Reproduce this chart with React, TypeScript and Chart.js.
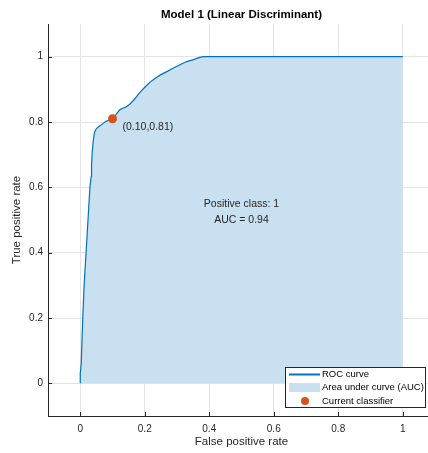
import React, { useEffect, useRef } from "react";
import { Chart, registerables } from "chart.js";

Chart.register(...registerables);

const rocFpr = [0, 0.0, 0.003, 0.008, 0.012, 0.018, 0.024, 0.030, 0.034, 0.035, 0.037, 0.040, 0.044, 0.050, 0.059, 0.070, 0.080, 0.090, 0.100, 0.112, 0.123, 0.132, 0.142, 0.155, 0.167, 0.178, 0.188, 0.198, 0.208, 0.220, 0.234, 0.250, 0.270, 0.290, 0.311, 0.330, 0.351, 0.368, 0.382, 0.400, 1.0];
const rocTpr = [0, 0.03, 0.06, 0.206, 0.30, 0.40, 0.50, 0.60, 0.634, 0.67, 0.706, 0.74, 0.768, 0.780, 0.787, 0.795, 0.802, 0.806, 0.810, 0.824, 0.838, 0.842, 0.846, 0.856, 0.868, 0.882, 0.894, 0.904, 0.914, 0.925, 0.935, 0.945, 0.955, 0.966, 0.976, 0.985, 0.991, 0.997, 1.0, 1.0, 1.0];
const classifierPoint = [0.10, 0.81];
const tickValues = [0, 0.2, 0.4, 0.6, 0.8, 1];
const titleText = "Model 1 (Linear Discriminant)";
const xLabel = "False positive rate";
const yLabel = "True positive rate";
const annotationLines = ["Positive class: 1", "AUC = 0.94"];
const pointLabel = "(0.10,0.81)";
const legendLabels = ["ROC curve", "Area under curve (AUC)", "Current classifier"];

const LINE = "#0072BD";
const AREA = "#C9E0F0";
const MARK = "#D95319";
const TEXT = "#262626";
const FONT = "'Liberation Sans', Arial, Helvetica, sans-serif";

const decor = {
  id: "decor",
  afterDatasetsDraw(chart: any) {
    const ctx = chart.ctx;
    const xs = chart.scales.x;
    const ys = chart.scales.y;
    const area = chart.chartArea;
    ctx.save();
    // inward tick marks
    ctx.strokeStyle = TEXT;
    ctx.lineWidth = 1;
    ctx.beginPath();
    for (const v of tickValues) {
      const px = Math.round(xs.getPixelForValue(v)) + 0.5;
      ctx.moveTo(px, area.bottom);
      ctx.lineTo(px, area.bottom - 4);
      const py = Math.round(ys.getPixelForValue(v)) + 0.5;
      ctx.moveTo(area.left, py);
      ctx.lineTo(area.left + 4, py);
    }
    ctx.stroke();

    const cx = (area.left + area.right) / 2;
    const cy = (area.top + area.bottom) / 2;
    // title
    ctx.fillStyle = "#000";
    ctx.font = `bold 11.5px ${FONT}`;
    ctx.textAlign = "center";
    ctx.textBaseline = "middle";
    ctx.fillText(titleText, cx, 15);
    // axis labels
    ctx.fillStyle = TEXT;
    ctx.font = `11.5px ${FONT}`;
    ctx.fillText(xLabel, cx, 442);
    ctx.save();
    ctx.translate(17, cy);
    ctx.rotate(-Math.PI / 2);
    ctx.fillText(yLabel, 0, 0);
    ctx.restore();
    // annotation
    ctx.font = `10.5px ${FONT}`;
    const ax = xs.getPixelForValue(0.5);
    const ay = ys.getPixelForValue(0.55);
    ctx.fillText(annotationLines[0], ax, ay);
    ctx.fillText(annotationLines[1], ax, ay + 16.5);
    // point label
    ctx.textAlign = "left";
    ctx.fillText(pointLabel, xs.getPixelForValue(classifierPoint[0]) + 10, ys.getPixelForValue(classifierPoint[1]) + 8.5);

    // legend
    const lx = 285.5, ly = 367.5, lw = 140, lh = 40;
    ctx.fillStyle = "#fff";
    ctx.fillRect(lx, ly, lw, lh);
    ctx.strokeStyle = TEXT;
    ctx.lineWidth = 1;
    ctx.strokeRect(lx, ly, lw, lh);
    const rows = [374.5, 387.5, 401];
    ctx.strokeStyle = LINE;
    ctx.lineWidth = 2;
    ctx.beginPath();
    ctx.moveTo(289, rows[0]);
    ctx.lineTo(320, rows[0]);
    ctx.stroke();
    ctx.fillStyle = AREA;
    ctx.fillRect(289, rows[1] - 4.5, 31, 9);
    ctx.fillStyle = MARK;
    ctx.beginPath();
    ctx.arc(305, rows[2], 4, 0, Math.PI * 2);
    ctx.fill();
    ctx.fillStyle = "#000";
    ctx.font = `9.5px ${FONT}`;
    ctx.textAlign = "left";
    ctx.textBaseline = "middle";
    legendLabels.forEach((t, i) => ctx.fillText(t, 322, rows[i]));
    ctx.restore();
  },
};

export default function App() {
  const ref = useRef<HTMLCanvasElement | null>(null);
  useEffect(() => {
    if (!ref.current) return;
    const rocData = rocFpr.map((x, i) => ({ x, y: rocTpr[i] }));
    const setTicks = (axis: any) => {
      axis.ticks = tickValues.map((v) => ({ value: v }));
    };
    const tickFont = { family: FONT, size: 10 };
    const chart = new Chart(ref.current, {
      type: "scatter",
      data: {
        datasets: [
          {
            data: rocData,
            showLine: true,
            borderColor: LINE,
            borderWidth: 1.2,
            pointRadius: 0,
            fill: "origin",
            backgroundColor: AREA,
            tension: 0,
            order: 2,
          } as any,
          {
            data: [{ x: classifierPoint[0], y: classifierPoint[1] }],
            pointRadius: 4.5,
            pointBackgroundColor: MARK,
            pointBorderWidth: 0,
            backgroundColor: MARK,
            borderColor: MARK,
            order: 1,
          } as any,
        ],
      },
      options: {
        responsive: false,
        animation: false,
        devicePixelRatio: 1,
        layout: { padding: { top: 24, right: 5, left: 0, bottom: 0 } },
        plugins: { legend: { display: false }, tooltip: { enabled: false }, title: { display: false } },
        events: [],
        scales: {
          x: {
            type: "linear",
            min: -0.1,
            max: 1.1,
            afterBuildTicks: setTicks,
            afterFit: (s: any) => { s.height = 37; },
            grid: { color: "#e4e4e4", drawTicks: false, lineWidth: 1 },
            border: { color: TEXT, width: 1 },
            ticks: { color: TEXT, font: tickFont, padding: 7, maxRotation: 0, callback: (v: any) => String(Number(v)) },
          },
          y: {
            type: "linear",
            min: -0.1,
            max: 1.1,
            afterBuildTicks: setTicks,
            afterFit: (s: any) => { s.width = 48; },
            grid: { color: "#e4e4e4", drawTicks: false, lineWidth: 1 },
            border: { color: TEXT, width: 1 },
            ticks: { color: TEXT, font: tickFont, padding: 5, callback: (v: any) => String(Number(v)) },
          },
        },
      },
      plugins: [decor],
    });
    return () => chart.destroy();
  }, []);
  return (
    <div style={{ position: "fixed", left: 0, top: 0, width: 428, height: 453, overflow: "hidden", background: "#fff" }}>
      <div style={{ width: 440, height: 453 }}>
        <canvas ref={ref} width={440} height={453} style={{ display: "block" }} />
      </div>
    </div>
  );
}
